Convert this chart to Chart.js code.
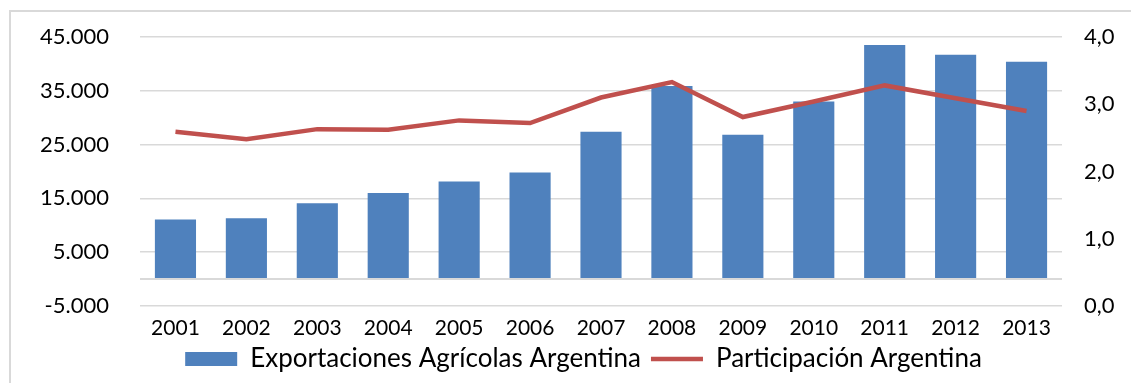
<!DOCTYPE html>
<html>
<head>
<meta charset="utf-8">
<script src="https://cdn.jsdelivr.net/npm/chart.js@4.4.1/dist/chart.umd.min.js"></script>
<style>
    body { margin: 0; background: #fff; }
    #frame {
        position: absolute; left: 9px; top: 10px;
        width: 1150px; height: 400px;
        border: 2px solid #d9d9d9;
    }
    #wrap { position: absolute; left: 0; top: 0; width: 1131px; height: 383px; }
</style>
</head>
<body>
<div id="frame"></div>
<div id="wrap"><canvas id="chart" width="1131" height="383"></canvas></div>
<script>
const years = ['2001', '2002', '2003', '2004', '2005', '2006', '2007', '2008', '2009', '2010', '2011', '2012', '2013'];
const exportaciones = [11100, 11300, 14100, 16000, 18150, 19800, 27400, 35900, 26850, 33000, 43500, 41700, 40400];
const participacion = [2.59, 2.48, 2.63, 2.62, 2.76, 2.72, 3.10, 3.33, 2.81, 3.04, 3.28, 3.09, 2.90];
const leftTicks = [-5000, 5000, 15000, 25000, 35000, 45000];
const rightTicks = [0, 1, 2, 3, 4];

const FONT = 'Lato, "Open Sans", sans-serif';

function fmtMiles(v) {
    const s = Math.abs(v).toString().replace(/\B(?=(\d{3})+(?!\d))/g, '.');
    return (v < 0 ? '-' : '') + s;
}

// tick padding is only used to push labels sideways, not to pad the chart area
function fixWidth(w) {
    return s => {
        s.width = w;
        s.paddingTop = 12;
        s.paddingBottom = 12;
    };
}

// legend sits a bit right of the canvas centre in the original
const legendShift = {
    id: 'legendShift',
    afterLayout(chart) {
        chart.legend.left += 18;
        chart.legend.right += 18;
    }
};

const chart = new Chart(document.getElementById('chart'), {
    data: {
        labels: years,
        datasets: [{
            type: 'line',
            label: 'Participación Argentina',
            data: participacion,
            yAxisID: 'y2',
            borderColor: '#c0504d',
            backgroundColor: '#c0504d',
            borderWidth: 4.5,
            pointRadius: 0,
            pointStyle: 'line',
            tension: 0,
            order: 0
        }, {
            type: 'bar',
            label: 'Exportaciones Agrícolas Argentina',
            data: exportaciones,
            yAxisID: 'y',
            backgroundColor: '#4f81bd',
            pointStyle: 'rect',
            categoryPercentage: 1,
            barPercentage: 0.58,
            order: 1
        }]
    },
    options: {
        responsive: false,
        animation: false,
        layout: { padding: { top: 37, bottom: 1, left: 0, right: 0 } },
        scales: {
            x: {
                grid: { display: false },
                border: { display: false },
                ticks: { color: '#000', font: { family: FONT, size: 21 }, padding: 2 },
                afterFit: s => { s.height = 30; }
            },
            y: {
                position: 'left',
                min: -5000,
                max: 45000,
                border: { display: false },
                afterBuildTicks: s => {
                    s.ticks = [-5000, 0, 5000, 15000, 25000, 35000, 45000].map(v => ({ value: v }));
                },
                grid: {
                    color: '#d9d9d9',
                    lineWidth: ctx => (ctx.tick && ctx.tick.value === 0 ? 2 : 1.5),
                    drawTicks: false
                },
                ticks: {
                    color: '#000',
                    font: { family: FONT, size: 22 },
                    padding: 31,
                    callback: v => (leftTicks.includes(v) ? fmtMiles(v) : '')
                },
                afterFit: fixWidth(140)
            },
            y2: {
                position: 'right',
                min: 0,
                max: 4,
                border: { display: false },
                grid: { display: false, drawTicks: false },
                afterBuildTicks: s => {
                    s.ticks = rightTicks.map(v => ({ value: v }));
                },
                ticks: {
                    color: '#000',
                    font: { family: FONT, size: 22 },
                    padding: 22,
                    callback: v => v.toFixed(1).replace('.', ',')
                },
                afterFit: fixWidth(69)
            }
        },
        plugins: {
            tooltip: { enabled: false },
            legend: {
                position: 'bottom',
                reverse: true,
                labels: {
                    color: '#000',
                    font: { family: FONT, size: 26 },
                    usePointStyle: true,
                    pointStyleWidth: 52,
                    boxHeight: 14,
                    padding: 10
                }
            }
        }
    },
    plugins: [legendShift]
});
</script>
</body>
</html>
